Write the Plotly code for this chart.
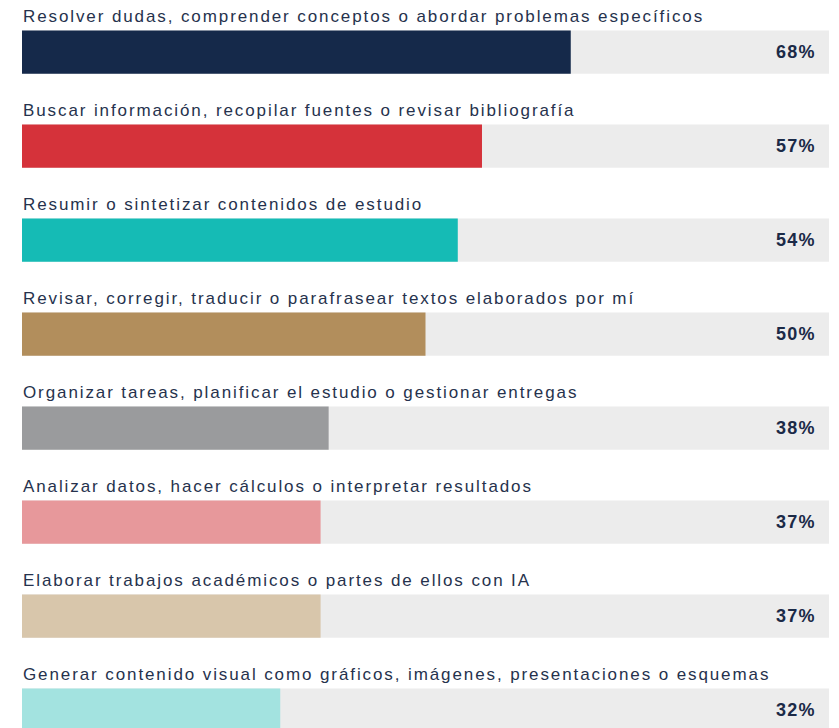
import plotly.graph_objects as go

# --- Data ---
categories = [
    "Resolver dudas, comprender conceptos o abordar problemas específicos",
    "Buscar información, recopilar fuentes o revisar bibliografía",
    "Resumir o sintetizar contenidos de estudio",
    "Revisar, corregir, traducir o parafrasear textos elaborados por mí",
    "Organizar tareas, planificar el estudio o gestionar entregas",
    "Analizar datos, hacer cálculos o interpretar resultados",
    "Elaborar trabajos académicos o partes de ellos con IA",
    "Generar contenido visual como gráficos, imágenes, presentaciones o esquemas",
]
values = [68, 57, 54, 50, 38, 37, 37, 32]
full = [100] * len(categories)

# --- Theme ---
BAR_COLORS = ["#15294a", "#d5323a", "#15bbb5", "#b28e5c",
              "#9a9b9d", "#e7989b", "#d8c6ab", "#a3e3e0"]
COLOR_TRACK = "#ececec"
COLOR_TEXT = "#26324d"
COLOR_PCT = "#1b2a47"
FONT = "Liberation Sans, Arial, sans-serif"

fig = go.Figure()
fig.add_trace(go.Bar(
    x=full, y=categories, orientation="h",
    marker=dict(color=COLOR_TRACK, line=dict(width=0)),
    width=0.46, hoverinfo="skip", showlegend=False,
))
fig.add_trace(go.Bar(
    x=values, y=categories, orientation="h",
    marker=dict(color=BAR_COLORS, line=dict(width=0)),
    width=0.46, showlegend=False,
))

annotations = []
for cat, val in zip(categories, values):
    # category label above the bar
    annotations.append(dict(
        x=0, y=cat, xref="x", yref="y",
        text=f'<span style="letter-spacing:1.9px">{cat}</span>',
        showarrow=False, xanchor="left", yanchor="middle", yshift=36,
        borderpad=0,
        font=dict(family=FONT, size=17, color=COLOR_TEXT),
    ))
    # percentage at the right end of the track
    annotations.append(dict(
        x=100, y=cat, xref="x", yref="y",
        text=f'<span style="letter-spacing:1.3px"><b>{val}%</b></span>',
        showarrow=False, xanchor="right", yanchor="middle", xshift=-11,
        font=dict(family=FONT, size=18, color=COLOR_PCT),
    ))

# page body adds an 8px margin, so the figure is sized to fit the window
fig.update_layout(
    width=831, height=720,
    margin=dict(l=14, r=10, t=0, b=0),
    paper_bgcolor="white", plot_bgcolor="white",
    barmode="overlay",
    annotations=annotations,
    xaxis=dict(range=[0, 100], visible=False, fixedrange=True),
    yaxis=dict(range=[7.19, -0.468], visible=False, fixedrange=True),
)

fig.write_html("out.html")
